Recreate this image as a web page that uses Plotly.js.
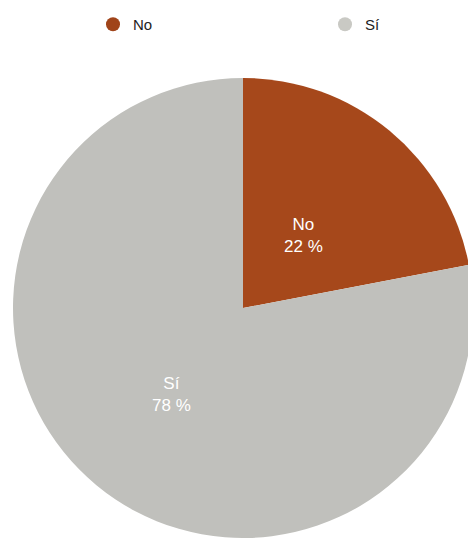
<!DOCTYPE html>
<html>
<head>
<meta charset="utf-8">
<script src="https://cdn.plot.ly/plotly-3.0.1.min.js"></script>
<style>
html,body{margin:0;padding:0;overflow:hidden;background:#fff;}
#chart{width:486px;height:538px;}
</style>
</head>
<body>
<div id="chart"></div>
<script>
const categories = ["No", "Sí"];
const values = [22, 78];
const sliceColors = ["#A6481B", "#C0C0BC"];
const legendColors = ["#A0441A", "#C9C9C4"];
const labelRadius = [0.41, 0.49];

const W = 486, H = 538, T = 78;
const R = (H - T) / 2;
const cx = W / 2, cy = T + R;

const pie = {
  type: "pie",
  labels: categories,
  values: values,
  sort: false,
  direction: "clockwise",
  rotation: 0,
  marker: { colors: sliceColors, line: { width: 0 } },
  textinfo: "none",
  hoverinfo: "label+percent",
  showlegend: false,
  domain: { x: [0, 1], y: [0, 1] }
};

const legendIds = ["legend", "legend2"];
const legendTraces = categories.map((c, i) => ({
  type: "scatter",
  mode: "markers",
  x: [null],
  y: [null],
  name: c,
  legend: legendIds[i],
  marker: { symbol: "circle", size: 14, color: legendColors[i] },
  showlegend: true,
  hoverinfo: "skip"
}));

const total = values.reduce((a, b) => a + b, 0);
let cum = 0;
const annotations = categories.map((c, i) => {
  const mid = (cum + values[i] / 2) / total * 2 * Math.PI;
  cum += values[i];
  const r = labelRadius[i] * R;
  const px = cx + r * Math.sin(mid);
  const py = cy - r * Math.cos(mid);
  return {
    xref: "paper", yref: "paper",
    x: px / W, y: (H - py) / (H - T),
    xanchor: "center", yanchor: "middle",
    showarrow: false,
    text: c + "<br>" + Math.round(values[i] / total * 100) + " %",
    font: { family: "Liberation Sans, Arial, sans-serif", size: 17, color: "#ffffff" }
  };
});

const legendBase = {
  orientation: "h",
  xanchor: "left",
  y: 1 - 8 / H,
  yanchor: "top",
  yref: "container",
  font: { family: "Liberation Sans, Arial, sans-serif", size: 15, color: "#222222" },
  bgcolor: "rgba(0,0,0,0)"
};

const layout = {
  width: W,
  height: H,
  margin: { l: 0, r: 0, t: T, b: 0 },
  paper_bgcolor: "#ffffff",
  plot_bgcolor: "rgba(0,0,0,0)",
  xaxis: { visible: false },
  yaxis: { visible: false },
  showlegend: true,
  annotations: annotations,
  legend: Object.assign({}, legendBase, { x: 93 / W }),
  legend2: Object.assign({}, legendBase, { x: 325 / W })
};

Plotly.newPlot("chart", [pie, ...legendTraces], layout, { displayModeBar: false, staticPlot: true });
</script>
</body>
</html>
